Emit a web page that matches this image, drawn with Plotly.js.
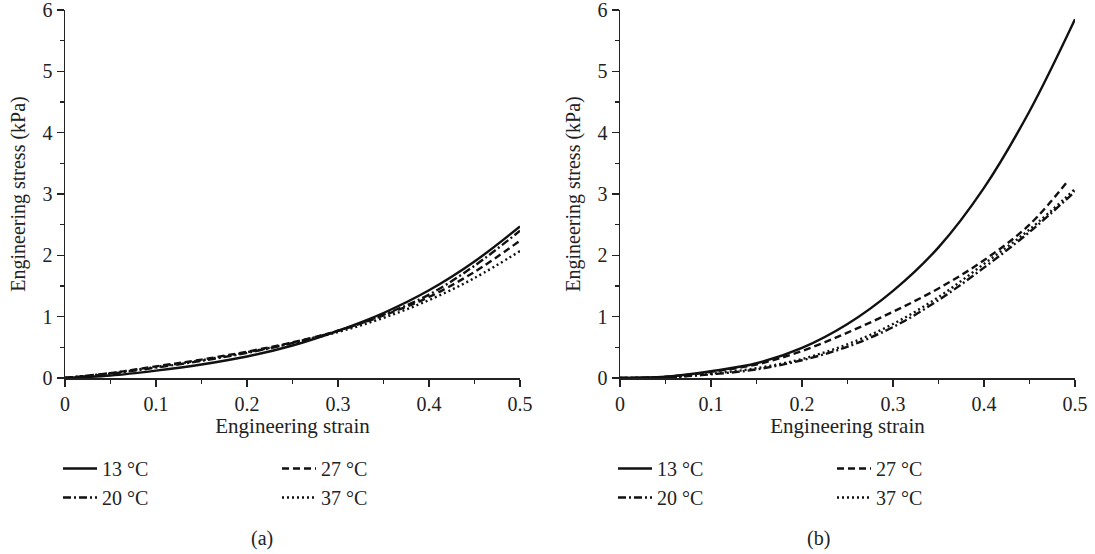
<!DOCTYPE html>
<html>
<head>
<meta charset="utf-8">
<script src="https://cdn.plot.ly/plotly-3.0.1.min.js"></script>
<style>html,body{margin:0;padding:0;background:#fff;}#chart{width:1095px;height:554px;}</style>
</head>
<body>
<div id="chart"></div>
<script>
// ---- data ----
var strain = [0, 0.05, 0.1, 0.15, 0.2, 0.25, 0.3, 0.35, 0.4, 0.45, 0.5];
var strain27b = [0, 0.05, 0.1, 0.15, 0.2, 0.25, 0.3, 0.35, 0.4, 0.45, 0.493];

var a13 = [0, 0.04, 0.12, 0.22, 0.35, 0.53, 0.77, 1.06, 1.43, 1.90, 2.47];
var a20 = [0, 0.07, 0.17, 0.28, 0.41, 0.57, 0.77, 1.03, 1.36, 1.83, 2.40];
var a27 = [0, 0.08, 0.19, 0.30, 0.43, 0.58, 0.77, 1.02, 1.32, 1.73, 2.24];
var a37 = [0, 0.08, 0.18, 0.29, 0.42, 0.57, 0.75, 0.98, 1.27, 1.63, 2.07];

var b13 = [0, 0.02, 0.11, 0.24, 0.49, 0.88, 1.42, 2.13, 3.10, 4.35, 5.85];
var b20 = [0, 0.01, 0.06, 0.14, 0.29, 0.51, 0.83, 1.27, 1.80, 2.38, 3.04];
var b27 = [0, 0.02, 0.10, 0.22, 0.44, 0.74, 1.08, 1.46, 1.92, 2.50, 3.23];
var b37 = [0, 0.01, 0.07, 0.16, 0.31, 0.55, 0.88, 1.32, 1.86, 2.42, 3.08];

var seriesNames = ['13 °C', '20 °C', '27 °C', '37 °C'];
var xTickVals = [0, 0.1, 0.2, 0.3, 0.4, 0.5];
var xTickText = ['0', '0.1', '0.2', '0.3', '0.4', '0.5'];
var yTickVals = [0, 1, 2, 3, 4, 5, 6];
var xTitle = 'Engineering strain';
var yTitle = 'Engineering stress (kPa)';
var panelLabels = ['(a)', '(b)'];

// ---- styles ----
var FONT = 'Liberation Serif, Times New Roman, serif';
var FS = 20;
var dashes = ['solid', '8px,3px,2px,3px', '7px,4px', '2px,3px'];
var groups = ['g1', 'g1', 'g2', 'g2'];

function mk(x, y, i, xa, ya, leg) {
  return {
    x: x, y: y, type: 'scatter', mode: 'lines',
    name: seriesNames[i],
    line: {color: '#111', width: 2.4, dash: dashes[i], shape: 'spline', smoothing: 1},
    xaxis: xa, yaxis: ya, legend: leg, legendgroup: groups[i] + leg
  };
}

var traces = [
  mk(strain, a13, 0, 'x', 'y', 'legend'),
  mk(strain, a20, 1, 'x', 'y', 'legend'),
  mk(strain, a27, 2, 'x', 'y', 'legend'),
  mk(strain, a37, 3, 'x', 'y', 'legend'),
  mk(strain, b13, 0, 'x2', 'y2', 'legend2'),
  mk(strain, b20, 1, 'x2', 'y2', 'legend2'),
  mk(strain27b, b27, 2, 'x2', 'y2', 'legend2'),
  mk(strain, b37, 3, 'x2', 'y2', 'legend2')
];

var W = 1095, H = 554;
function px(v) { return v / W; }
function py(v) { return (H - v) / H; }

function xax(d0, d1, anchor) {
  return {
    domain: [px(d0), px(d1)], range: [0, 0.5], anchor: anchor,
    tickvals: xTickVals, ticktext: xTickText,
    ticks: 'outside', ticklen: 7, tickwidth: 1.3, tickcolor: '#222',
    minor: {dtick: 0.05, tick0: 0, ticks: 'outside', ticklen: 4, tickwidth: 1.3, tickcolor: '#222'},
    showline: true, linecolor: '#222', linewidth: 1.5,
    showgrid: false, zeroline: false,
    tickfont: {family: FONT, size: FS, color: '#222'},
    ticklabeloverflow: 'allow',
    title: {text: xTitle, font: {family: FONT, size: 21, color: '#222'}, standoff: 3},
    automargin: false, fixedrange: true
  };
}
function yax(anchor) {
  return {
    domain: [py(378), py(10)], range: [0, 6], anchor: anchor,
    tickvals: yTickVals,
    ticks: 'outside', ticklen: 7, tickwidth: 1.3, tickcolor: '#222',
    minor: {dtick: 0.5, tick0: 0, ticks: 'outside', ticklen: 4, tickwidth: 1.3, tickcolor: '#222'},
    showline: true, linecolor: '#222', linewidth: 1.5,
    showgrid: false, zeroline: false,
    tickfont: {family: FONT, size: FS, color: '#222'},
    ticklabeloverflow: 'allow',
    title: {text: yTitle, font: {family: FONT, size: FS, color: '#222'}, standoff: 11},
    automargin: false, fixedrange: true
  };
}

function leg(x0) {
  return {
    orientation: 'h', x: px(x0), xanchor: 'left', y: py(449), yanchor: 'top',
    font: {family: FONT, size: FS, color: '#222'},
    entrywidth: 170, entrywidthmode: 'pixels',
    tracegroupgap: 0, bgcolor: 'rgba(0,0,0,0)', borderwidth: 0,
    itemwidth: 34, traceorder: 'grouped'
  };
}

var layout = {
  width: W, height: H,
  margin: {l: 0, r: 0, t: 0, b: 0},
  paper_bgcolor: '#fff', plot_bgcolor: '#fff',
  showlegend: true,
  xaxis: xax(65, 520, 'y'),
  yaxis: yax('x'),
  xaxis2: xax(620, 1075, 'y2'),
  yaxis2: yax('x2'),
  legend: leg(58),
  legend2: leg(613),
  annotations: [
    {text: panelLabels[0], xref: 'paper', yref: 'paper', x: px(262), y: py(538), showarrow: false,
     xanchor: 'center', yanchor: 'middle', font: {family: FONT, size: FS, color: '#222'}},
    {text: panelLabels[1], xref: 'paper', yref: 'paper', x: px(818), y: py(538), showarrow: false,
     xanchor: 'center', yanchor: 'middle', font: {family: FONT, size: FS, color: '#222'}}
  ]
};

Plotly.newPlot('chart', traces, layout, {displayModeBar: false, staticPlot: true});
</script>
</body>
</html>
